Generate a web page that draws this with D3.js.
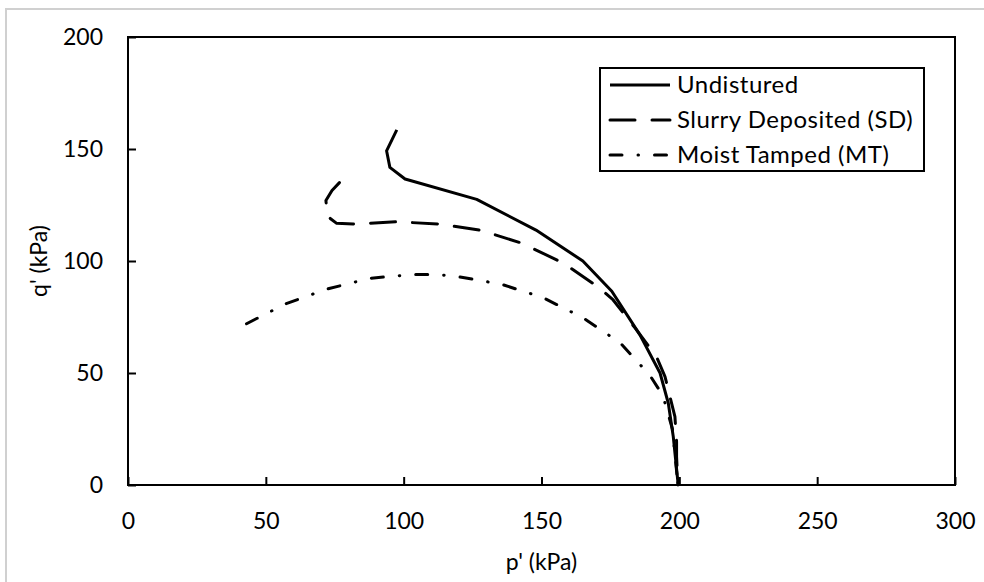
<!DOCTYPE html>
<html>
<head>
<meta charset="utf-8">
<script src="https://cdn.jsdelivr.net/npm/d3@7"></script>
<style>
  body { margin: 0; background: #fff; }
  text { font-family: Lato, "Open Sans", sans-serif; fill: #000; }
</style>
</head>
<body>
<div id="chart"></div>
<script>
////////////////////////////////////////////////////////////
//////////////////////// data //////////////////////////////
////////////////////////////////////////////////////////////
// stress paths, [p', q'] in kPa
var undisturbed = [[97.5,158.5],[93.8,149.2],[95,141.8],[100.5,136.6],[126.5,127.5],[148,113.8],
  [165,100],[175.5,86.5],[185.7,67],[193,50],[196,36.5],[197.8,21.6],[199.6,0]];
var slurryDeposited = [[76.7,135],[74,131.5],[71.8,127],[72.3,120],[75.7,116.8],[81.7,116.5],[97.5,117.5],
  [113,116.5],[127.7,113.8],[143,107.9],[158,99],[171,88],[176,82.6],[184,70],[191.7,57.3],
  [194.8,48.4],[196.6,39.4],[198.4,30.5],[199,19.3],[199,12.6],[199.5,0]];
var moistTamped = [[43,72],[57,80.8],[72,87.4],[87.8,92.3],[103.5,94],[112,94],[119.8,93],
  [135.5,89.6],[150.6,83.6],[165,74.7],[178.5,63.5],[189.3,49],[194,40],[197.5,25],[199.5,0]];

var seriesNames = ["Undistured", "Slurry Deposited (SD)", "Moist Tamped (MT)"];
var xTicks = [0, 50, 100, 150, 200, 250, 300];
var yTicks = [0, 50, 100, 150, 200];

////////////////////////////////////////////////////////////
//////////////////////// layout ////////////////////////////
////////////////////////////////////////////////////////////
var wdim = 984, hdim = 582;
var plot = {left:128, top:37, right:955, bottom:485};
var dashes = ["none", "25,17", "12,16,0.5,16"];

var svg = d3.select("#chart").append("svg")
  .attr("width", wdim)
  .attr("height", hdim);

svg.append("rect")
  .attr("width", wdim).attr("height", hdim)
  .attr("fill", "#fff");

// light outer frame
svg.append("rect")
  .attr("x", 6).attr("y", 9)
  .attr("width", 1000).attr("height", 600)
  .attr("fill", "none")
  .attr("stroke", "#d0d0d0")
  .attr("stroke-width", 2);

var x = d3.scaleLinear().domain([0, 300]).range([plot.left, plot.right]);
var y = d3.scaleLinear().domain([0, 200]).range([plot.bottom, plot.top]);

// axes, ticks pointing inward
var xAxis = svg.append("g")
  .attr("transform", "translate(0," + plot.bottom + ")")
  .call(d3.axisBottom(x).tickValues(xTicks).tickSizeInner(-8).tickSizeOuter(0).tickPadding(28));
var yAxis = svg.append("g")
  .attr("transform", "translate(" + plot.left + ",0)")
  .call(d3.axisLeft(y).tickValues(yTicks).tickSizeInner(-8).tickSizeOuter(0).tickPadding(25));

[xAxis, yAxis].forEach(function(a){
  a.select(".domain").remove();
  a.selectAll("line").attr("stroke", "#000").attr("stroke-width", 2);
  a.selectAll("text").style("font-size", "23px").attr("fill", "#000")
    .style("font-family", "Lato, 'Open Sans', sans-serif");
});

// plot border
svg.append("rect")
  .attr("x", plot.left).attr("y", plot.top)
  .attr("width", plot.right - plot.left)
  .attr("height", plot.bottom - plot.top)
  .attr("fill", "none")
  .attr("stroke", "#000")
  .attr("stroke-width", 2);

// axis titles
svg.append("text")
  .attr("x", (plot.left + plot.right) / 2)
  .attr("y", 570)
  .attr("text-anchor", "middle")
  .style("font-size", "23px")
  .text("p' (kPa)");

svg.append("text")
  .attr("transform", "translate(47," + ((plot.top + plot.bottom) / 2) + ") rotate(-90)")
  .attr("text-anchor", "middle")
  .style("font-size", "23px")
  .text("q' (kPa)");

////////////////////////////////////////////////////////////
//////////////////////// lines /////////////////////////////
////////////////////////////////////////////////////////////
var line = d3.line()
  .x(function(d){ return x(d[0]); })
  .y(function(d){ return y(d[1]); });

var allSeries = [undisturbed, slurryDeposited, moistTamped];

svg.selectAll(".path")
  .data(allSeries)
  .enter().append("path")
  .attr("class", "path")
  .attr("d", line)
  .attr("fill", "none")
  .attr("stroke", "#000")
  .attr("stroke-width", 3)
  .attr("stroke-linecap", function(d,i){ return i == 0 ? "butt" : "round"; })
  .attr("stroke-linejoin", "round")
  .attr("stroke-dasharray", function(d,i){ return dashes[i]; });

////////////////////////////////////////////////////////////
//////////////////////// legend ////////////////////////////
////////////////////////////////////////////////////////////
var leg = {left:600, top:68, right:924, bottom:171, row:35};

svg.append("rect")
  .attr("x", leg.left).attr("y", leg.top)
  .attr("width", leg.right - leg.left)
  .attr("height", leg.bottom - leg.top)
  .attr("fill", "#fff")
  .attr("stroke", "#000")
  .attr("stroke-width", 2);

var items = svg.selectAll(".legItem")
  .data(seriesNames)
  .enter().append("g")
  .attr("class", "legItem")
  .attr("transform", function(d,i){ return "translate(0," + (85 + i * leg.row) + ")"; });

items.append("line")
  .attr("x1", 610).attr("x2", 670)
  .attr("stroke", "#000")
  .attr("stroke-width", 3)
  .attr("stroke-linecap", function(d,i){ return i == 0 ? "butt" : "round"; })
  .attr("stroke-dasharray", function(d,i){ return dashes[i]; });

items.append("text")
  .attr("x", 677)
  .attr("y", 8)
  .style("font-size", "24px")
  .style("letter-spacing", "0.5px")
  .text(function(d){ return d; });
</script>
</body>
</html>
